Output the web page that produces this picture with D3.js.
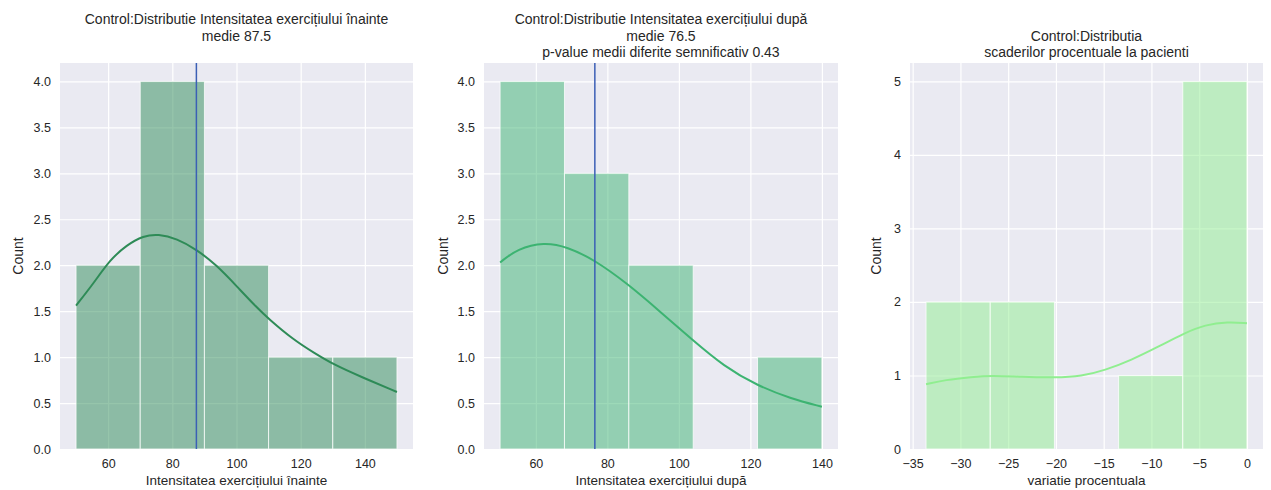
<!DOCTYPE html>
<html>
<head>
<meta charset="utf-8">
<script src="https://cdn.jsdelivr.net/npm/d3@7"></script>
<style>
  body { margin: 0; background: #fff; }
  svg { font-family: "Liberation Sans", Arial, sans-serif; }
</style>
</head>
<body>
<div id="chart-area"></div>
<script>
// --- data ---
const beforeBins = [50, 70, 90, 110, 130, 150];
const beforeCounts = [2, 4, 2, 1, 1];
const beforeMean = 87.5;
const beforeKdeX = [50, 55.4, 60.6, 65.8, 71.0, 75.6, 81.4, 87.6, 93.8, 100.1, 106.3, 109.9, 117.7, 124, 130.2, 138.5, 150];
const beforeKdeY = [1.56, 1.80, 2.06, 2.22, 2.32, 2.34, 2.29, 2.17, 2.00, 1.77, 1.54, 1.42, 1.19, 1.05, 0.92, 0.79, 0.62];

const afterBins = [50, 68, 86, 104, 122, 140];
const afterCounts = [4, 3, 2, 0, 1];
const afterMean = 76.5;
const afterKdeX = [50, 54.9, 62.3, 68.8, 76.3, 85.6, 94.9, 103.7, 112.6, 121.9, 131.2, 140];
const afterKdeY = [2.03, 2.18, 2.25, 2.20, 2.06, 1.80, 1.49, 1.19, 0.90, 0.69, 0.55, 0.46];

const changeBins = [-33.6, -26.88, -20.16, -13.44, -6.72, 0];
const changeCounts = [2, 2, 0, 1, 5];
const changeKdeX = [-33.6, -31.6, -28.8, -26.7, -23.6, -20.1, -17.3, -14.9, -12.1, -9.3, -6.5, -4.4, -2.0, 0];
const changeKdeY = [0.88, 0.94, 0.98, 1.00, 0.98, 0.97, 0.99, 1.07, 1.21, 1.39, 1.58, 1.69, 1.73, 1.71];

const intensityXTicks = [60, 80, 100, 120, 140];
const intensityYTicks = [0, 0.5, 1, 1.5, 2, 2.5, 3, 3.5, 4];
const changeXTicks = [-35, -30, -25, -20, -15, -10, -5, 0];
const changeYTicks = [0, 1, 2, 3, 4, 5];

const beforeTitle = ["Control:Distributie Intensitatea exercițiului înainte", "medie 87.5"];
const afterTitle = ["Control:Distributie Intensitatea exercițiului după", "medie 76.5", "p-value medii diferite semnificativ 0.43"];
const changeTitle = ["Control:Distributia", "scaderilor procentuale la pacienti"];

// --- layout ---
const width = 1271, height = 490;
const plotTop = 63, plotBottom = 449;

const svg = d3.select("#chart-area").append("svg").attr("width", width).attr("height", height);

const panels = [
  {left: 60, right: 413, xDomain: [45, 155], yMax: 4.2, bins: beforeBins, counts: beforeCounts,
   kdeX: beforeKdeX, kdeY: beforeKdeY, mean: beforeMean, color: "#2e8b57",
   xTicks: intensityXTicks, yTicks: intensityYTicks, yFormat: d3.format(".1f"),
   title: beforeTitle, titleY: [24, 41], xLabel: "Intensitatea exercițiului înainte", yLabelX: 18},
  {left: 484, right: 838, xDomain: [45.5, 144.5], yMax: 4.2, bins: afterBins, counts: afterCounts,
   kdeX: afterKdeX, kdeY: afterKdeY, mean: afterMean, color: "#3cb371",
   xTicks: intensityXTicks, yTicks: intensityYTicks, yFormat: d3.format(".1f"),
   title: afterTitle, titleY: [24, 41, 57], xLabel: "Intensitatea exercițiului după", yLabelX: 443},
  {left: 910, right: 1263, xDomain: [-35.28, 1.68], yMax: 5.25, bins: changeBins, counts: changeCounts,
   kdeX: changeKdeX, kdeY: changeKdeY, mean: null, color: "#90ee90",
   xTicks: changeXTicks, yTicks: changeYTicks, yFormat: d3.format("d"),
   title: changeTitle, titleY: [41, 57], xLabel: "variatie procentuala", yLabelX: 876}
];

panels.forEach(p => {
  const x = d3.scaleLinear().domain(p.xDomain).range([p.left, p.right]);
  const y = d3.scaleLinear().domain([0, p.yMax]).range([plotBottom, plotTop]);
  const g = svg.append("g");

  // background
  g.append("rect")
    .attr("x", p.left).attr("y", plotTop)
    .attr("width", p.right - p.left).attr("height", plotBottom - plotTop)
    .attr("fill", "#eaeaf2");

  // grid via axes
  const xAxis = g.append("g")
    .attr("transform", `translate(0, ${plotBottom})`)
    .call(d3.axisBottom(x).tickValues(p.xTicks).tickSize(-(plotBottom - plotTop)).tickPadding(8));
  const yAxis = g.append("g")
    .attr("transform", `translate(${p.left}, 0)`)
    .call(d3.axisLeft(y).tickValues(p.yTicks).tickFormat(p.yFormat).tickSize(-(p.right - p.left)).tickPadding(9));

  [xAxis, yAxis].forEach(a => {
    a.select(".domain").remove();
    a.selectAll("line").attr("stroke", "#fff").attr("stroke-width", 1.2);
    a.selectAll("text").attr("fill", "#262626").attr("font-size", "12.5px");
  });
  xAxis.selectAll("text").attr("dy", "0.85em");

  // bars
  const binData = p.counts.map((c, i) => ({x0: p.bins[i], x1: p.bins[i + 1], count: c}));
  g.selectAll("rect.bar")
    .data(binData.filter(d => d.count > 0))
    .enter()
    .append("rect")
    .attr("class", "bar")
    .attr("x", d => x(d.x0))
    .attr("width", d => x(d.x1) - x(d.x0))
    .attr("y", d => y(d.count))
    .attr("height", d => y(0) - y(d.count))
    .attr("fill", p.color)
    .attr("fill-opacity", 0.5)
    .attr("stroke", "#fff")
    .attr("stroke-opacity", 0.75)
    .attr("stroke-width", 1);

  // kde line
  const line = d3.line()
    .x(d => x(d[0]))
    .y(d => y(d[1]))
    .curve(d3.curveBasis);
  g.append("path")
    .datum(d3.zip(p.kdeX, p.kdeY))
    .attr("d", line)
    .attr("fill", "none")
    .attr("stroke", p.color)
    .attr("stroke-width", 2);

  // mean line
  if (p.mean !== null) {
    g.append("line")
      .attr("x1", x(p.mean)).attr("x2", x(p.mean))
      .attr("y1", plotTop).attr("y2", plotBottom)
      .attr("stroke", "#3b5fb5")
      .attr("stroke-width", 1.5);
  }

  // title
  const cx = (p.left + p.right) / 2;
  p.title.forEach((t, i) => {
    g.append("text")
      .attr("x", cx).attr("y", p.titleY[i])
      .attr("text-anchor", "middle")
      .attr("font-size", "14px")
      .attr("fill", "#262626")
      .text(t);
  });

  // axis labels
  g.append("text")
    .attr("x", cx).attr("y", 485)
    .attr("text-anchor", "middle")
    .attr("font-size", "13.5px")
    .attr("fill", "#262626")
    .text(p.xLabel);

  g.append("text")
    .attr("transform", `translate(${p.yLabelX}, ${(plotTop + plotBottom) / 2}) rotate(-90)`)
    .attr("dy", "0.35em")
    .attr("text-anchor", "middle")
    .attr("font-size", "14px")
    .attr("fill", "#262626")
    .text("Count");
});
</script>
</body>
</html>
